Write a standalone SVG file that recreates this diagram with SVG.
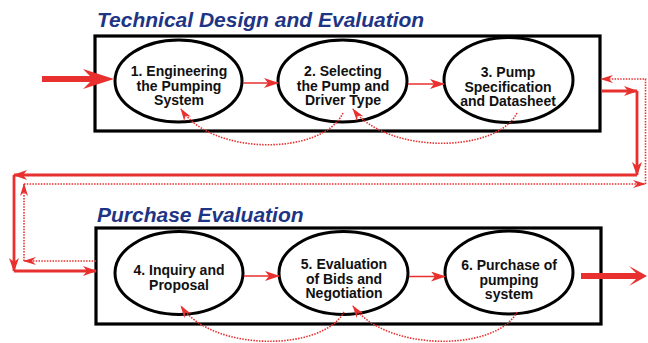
<svg xmlns="http://www.w3.org/2000/svg" width="648" height="343" viewBox="0 0 648 343">
<defs>
<style>
.box{fill:none;stroke:#000;stroke-width:3.2}
.ell{fill:#fff;stroke:#000;stroke-width:3}
.t{font-family:"Liberation Sans",Arial,sans-serif;font-weight:bold;font-size:14px;fill:#111;text-anchor:middle}
.title{font-family:"Liberation Sans",Arial,sans-serif;font-weight:bold;font-style:italic;font-size:21px;fill:#1e3585}
.thin{fill:none;stroke:#e8312f;stroke-width:1.6}
.thick{fill:none;stroke:#e8312f;stroke-width:2.8}
.dot{fill:none;stroke:#e8312f;stroke-width:1.6;stroke-dasharray:1.5 1.3}
.big{fill:#e8312f}
</style>
<marker id="aS" markerUnits="userSpaceOnUse" viewBox="0 0 15 10" refX="14" refY="5" markerWidth="15" markerHeight="10" orient="auto">
<path d="M0,0 L15,5 L0,10 L4,5 Z" fill="#e8312f"/>
</marker>
<marker id="aL" markerUnits="userSpaceOnUse" viewBox="0 0 14 10" refX="13" refY="5" markerWidth="14" markerHeight="10" orient="auto">
<path d="M0,0 L14,5 L0,10 L4,5 Z" fill="#e8312f"/>
</marker>
<marker id="aD" markerUnits="userSpaceOnUse" viewBox="0 0 13 8" refX="12" refY="4" markerWidth="13" markerHeight="8" orient="auto">
<path d="M0,0 L13,4 L0,8 L4,4 Z" fill="#e8312f"/>
</marker>
</defs>

<text class="title" x="97" y="27">Technical Design and Evaluation</text>
<text class="title" x="97" y="221.5">Purchase Evaluation</text>

<rect class="box" x="95" y="36" width="505" height="95"/>
<rect class="box" x="96" y="228" width="505" height="96"/>

<g id="n1">
<ellipse class="ell" cx="178.5" cy="81" rx="63.5" ry="41"/>
<text class="t" x="179" y="76">1. Engineering</text>
<text class="t" x="179" y="90.5">the Pumping</text>
<text class="t" x="179" y="105">System</text>
</g>
<g id="n2">
<ellipse class="ell" cx="342.5" cy="81" rx="64.5" ry="41"/>
<text class="t" x="343" y="76">2. Selecting</text>
<text class="t" x="343" y="90.5">the Pump and</text>
<text class="t" x="343" y="105">Driver Type</text>
</g>
<g id="n3">
<ellipse class="ell" cx="508.5" cy="80" rx="64.5" ry="42.5"/>
<text class="t" x="508" y="77">3. Pump</text>
<text class="t" x="508" y="91.5">Specification</text>
<text class="t" x="508" y="106">and Datasheet</text>
</g>
<g id="n4">
<ellipse class="ell" cx="179" cy="273" rx="64" ry="41.5"/>
<text class="t" x="179" y="275">4. Inquiry and</text>
<text class="t" x="179" y="289.5">Proposal</text>
</g>
<g id="n5">
<ellipse class="ell" cx="343.5" cy="273" rx="64.5" ry="41.5"/>
<text class="t" x="344" y="269">5. Evaluation</text>
<text class="t" x="344" y="283.5">of Bids and</text>
<text class="t" x="344" y="298">Negotiation</text>
</g>
<g id="n6">
<ellipse class="ell" cx="509" cy="272.5" rx="64" ry="41.5"/>
<text class="t" x="509" y="270">6. Purchase of</text>
<text class="t" x="509" y="284.5">pumping</text>
<text class="t" x="509" y="299">system</text>
</g>

<g id="connectors">
<path class="big" d="M42,76 L90,76 L83,69 L114,79 L83,89 L90,82 L42,82 Z"/>
<path class="big" d="M581,273 L636,273 L629,266 L647,276 L629,286 L636,279 L581,279 Z"/>

<path class="thin" d="M243,83 H278" marker-end="url(#aS)"/>
<path class="thin" d="M408,84 H444" marker-end="url(#aS)"/>
<path class="thin" d="M244,276 H279" marker-end="url(#aS)"/>
<path class="thin" d="M409,276.5 H445" marker-end="url(#aS)"/>

<path class="dot" d="M343,113 C322,156 212,156 181,109" marker-end="url(#aD)"/>
<path class="dot" d="M517,113 C496,154 386,154 353,109" marker-end="url(#aD)"/>
<path class="dot" d="M344,312 C322,352 212,352 181,306" marker-end="url(#aD)"/>
<path class="dot" d="M517,312 C496,352 386,352 353,306" marker-end="url(#aD)"/>

<path class="thick" d="M601,91 H637" marker-end="url(#aL)"/>
<path class="thick" d="M637,91 V175" marker-end="url(#aL)"/>
<path class="thick" d="M637,175 H14" marker-end="url(#aL)"/>
<path class="thick" d="M14,175 V271" marker-end="url(#aL)"/>
<path class="thick" d="M14,271 H96" marker-end="url(#aL)"/>

<path class="dot" d="M96,261 H24" marker-end="url(#aD)"/>
<path class="dot" d="M24,261 V184" marker-end="url(#aD)"/>
<path class="dot" d="M24,184 H645" marker-end="url(#aD)"/>
<path class="dot" d="M645.5,184 V79 H601" marker-end="url(#aD)"/>
</g>
</svg>
